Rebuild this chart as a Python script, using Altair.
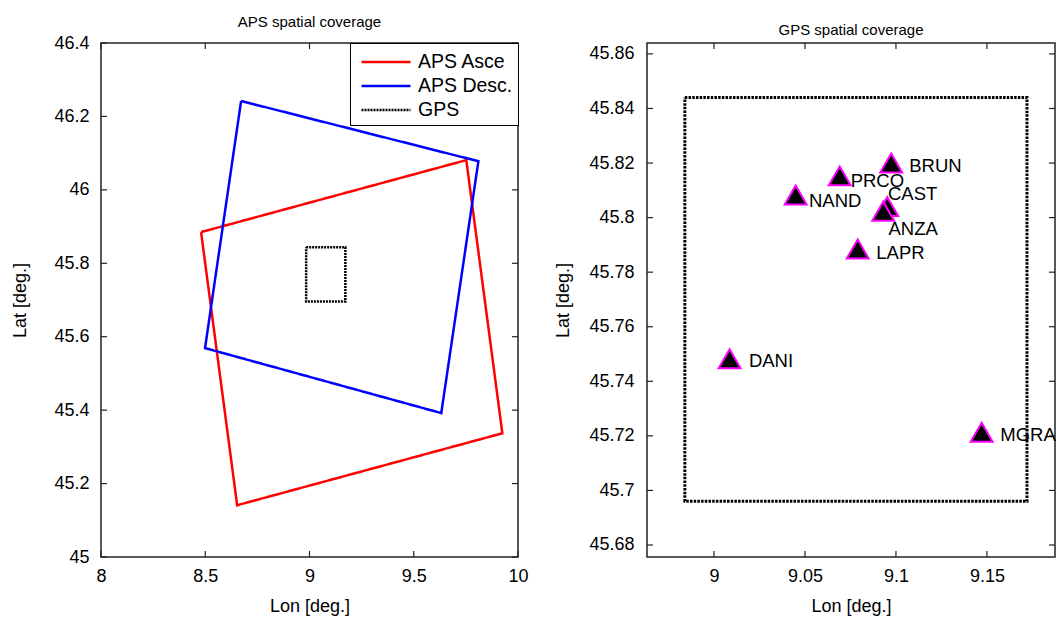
import altair as alt
import pandas as pd

# ---------------- data ----------------
series_names = ["APS Asce", "APS Desc.", "GPS"]
series_colors = ["#ff0000", "#0000ff", "#000000"]

asce_lon = [8.480, 9.752, 9.925, 8.653]
asce_lat = [45.885, 46.081, 45.337, 45.141]
desc_lon = [8.672, 9.810, 9.632, 8.499]
desc_lat = [46.242, 46.078, 45.392, 45.569]
gps_lon = [8.984, 9.172, 9.172, 8.984]
gps_lat = [45.844, 45.844, 45.696, 45.696]

stations = ["BRUN", "PRCO", "NAND", "CAST", "ANZA", "LAPR", "DANI", "MGRA"]
sta_lon = [9.0974, 9.0691, 9.0449, 9.0952, 9.0930, 9.0790, 9.0086, 9.1471]
sta_lat = [45.8200, 45.8153, 45.8083, 45.8041, 45.8023, 45.7885, 45.7483, 45.7213]
lbl_lon = [9.1073, 9.0751, 9.0522, 9.0956, 9.0959, 9.0892, 9.0192, 9.1573]
lbl_lat = [45.8189, 45.8133, 45.8062, 45.8087, 45.7959, 45.7869, 45.7474, 45.7203]

left_xticks = [8, 8.5, 9, 9.5, 10]
left_yticks = [45, 45.2, 45.4, 45.6, 45.8, 46, 46.2, 46.4]
right_xticks = [9, 9.05, 9.1, 9.15]
right_yticks = [45.68, 45.7, 45.72, 45.74, 45.76, 45.78, 45.8, 45.82, 45.84, 45.86]

left_xdomain = [8, 10]
left_ydomain = [45, 46.4]
right_xdomain = [8.9632, 9.1874]
right_ydomain = [45.6756, 45.8640]

FONT = "Liberation Sans"
LW, LH = 417, 514
RW, RH = 408, 514
TICK = 6


def closed(lons, lats, name):
    rows = []
    for i, (a, b) in enumerate(list(zip(lons, lats)) + [(lons[0], lats[0])]):
        rows.append({"series": name, "lon": a, "lat": b, "idx": i})
    return rows


def inward_ticks(xticks, yticks, X, Y, W, H):
    dx = pd.DataFrame({"lon": xticks})
    dy = pd.DataFrame({"lat": yticks})
    st = dict(color="#222222", strokeWidth=1.2)
    return [
        alt.Chart(dx).mark_rule(**st).encode(x=X, y=alt.value(H), y2=alt.value(H - TICK)),
        alt.Chart(dx).mark_rule(**st).encode(x=X, y=alt.value(0), y2=alt.value(TICK)),
        alt.Chart(dy).mark_rule(**st).encode(y=Y, x=alt.value(0), x2=alt.value(TICK)),
        alt.Chart(dy).mark_rule(**st).encode(y=Y, x=alt.value(W), x2=alt.value(W - TICK)),
    ]


# ---------------- left panel ----------------
rows = closed(asce_lon, asce_lat, series_names[0]) + closed(desc_lon, desc_lat, series_names[1]) + closed(gps_lon, gps_lat, series_names[2])
poly = pd.DataFrame(rows)

LX = alt.X("lon:Q", scale=alt.Scale(domain=left_xdomain, nice=False, zero=False),
           axis=alt.Axis(values=left_xticks, format="~g", title="Lon [deg.]", labelFlush=False,
                         labelOverlap=False, labelPadding=10, titlePadding=12))
LY = alt.Y("lat:Q", scale=alt.Scale(domain=left_ydomain, nice=False, zero=False),
           axis=alt.Axis(values=left_yticks, format="~g", title="Lat [deg.]", labelOverlap=False,
                         labelPadding=12, titlePadding=24))

leg = alt.Legend(title=None, orient="top-right", offset=0,
                 symbolType="M-0.6,0L3.32,0", symbolSize=625,
                 symbolStrokeWidth=2.5, labelFontSize=19.5, labelFont=FONT, labelColor="black",
                 padding=5, rowPadding=0, labelOffset=35, strokeColor="black", fillColor="white",
                 cornerRadius=0)

lines = alt.Chart(poly).mark_line(strokeWidth=2.5).encode(
    x=LX, y=LY,
    color=alt.Color("series:N", scale=alt.Scale(domain=series_names, range=series_colors), legend=leg),
    strokeDash=alt.StrokeDash("series:N", scale=alt.Scale(domain=series_names, range=[[1, 0], [1, 0], [2, 1]]), legend=leg),
    detail="series:N",
    order="idx:Q",
)

left = alt.layer(lines, *inward_ticks(left_xticks, left_yticks, LX, LY, LW, LH)).properties(
    width=LW, height=LH,
    title=alt.Title("APS spatial coverage", fontSize=15, fontWeight="normal", font=FONT, offset=4),
)

# ---------------- right panel ----------------
RX = alt.X("lon:Q", scale=alt.Scale(domain=right_xdomain, nice=False, zero=False),
           axis=alt.Axis(values=right_xticks, format="~g", title="Lon [deg.]", labelFlush=False,
                         labelOverlap=False, labelPadding=10, titlePadding=12))
RY = alt.Y("lat:Q", scale=alt.Scale(domain=right_ydomain, nice=False, zero=False),
           axis=alt.Axis(values=right_yticks, format="~g", title="Lat [deg.]", labelOverlap=False,
                         labelPadding=13, titlePadding=16))

box = pd.DataFrame(closed(gps_lon, gps_lat, "GPS"))
gbox = alt.Chart(box).mark_line(color="black", strokeWidth=3, strokeDash=[2.5, 1.2]).encode(
    x=RX, y=RY, order="idx:Q")

sta = pd.DataFrame({"name": stations, "lon": sta_lon, "lat": sta_lat})
lab = pd.DataFrame({"name": stations, "lon": lbl_lon, "lat": lbl_lat})

tri = alt.Chart(sta).mark_point(
    shape="M0,-0.866L-1,0.866L1,0.866Z", filled=True, size=480, color="black",
    stroke="#ff00ff", strokeWidth=2, opacity=1, fillOpacity=1, strokeOpacity=1,
).encode(x=RX, y=RY)

txt = alt.Chart(lab).mark_text(align="left", baseline="middle", fontSize=18.5, font=FONT, color="black").encode(
    x=RX, y=RY, text="name:N")

right = alt.layer(gbox, tri, txt, *inward_ticks(right_xticks, right_yticks, RX, RY, RW, RH)).properties(
    width=RW, height=RH,
    title=alt.Title("GPS spatial coverage", fontSize=15, fontWeight="normal", font=FONT, offset=4),
)

chart = alt.hconcat(left, right, spacing=25).resolve_scale(
    x="independent", y="independent", color="independent", strokeDash="independent"
).resolve_legend(color="independent", strokeDash="independent").properties(
    padding={"left": 11, "top": 14, "right": 0, "bottom": 0},
    background="white",
).configure_view(stroke="#222222", strokeWidth=1.5).configure_axis(
    domain=False, ticks=False, grid=False,
    labelFont=FONT, labelFontSize=18, labelColor="black",
    titleFont=FONT, titleFontSize=18, titleFontWeight="normal", titleColor="black",
).configure_title(color="black", anchor="middle")

chart.save("out.html", embed_options={"renderer": "svg", "actions": False})
